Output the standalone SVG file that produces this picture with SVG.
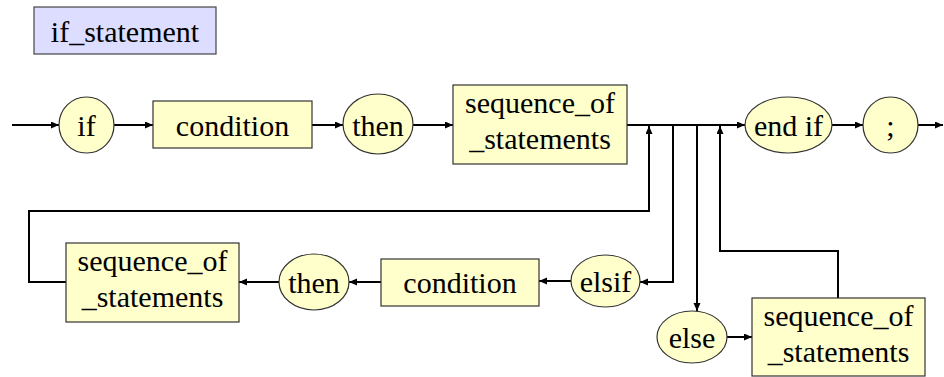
<svg xmlns="http://www.w3.org/2000/svg" width="944" height="377" viewBox="0 0 944 377">
<defs>
<marker id="arr" markerUnits="userSpaceOnUse" markerWidth="9" markerHeight="8" refX="8" refY="3.5" orient="auto">
<path d="M0,0 L8,3.5 L0,7 z" fill="#000"/>
</marker>
<style>
.n{fill:#ffffcc;stroke:#333;stroke-width:1.2}
.t{fill:#ddddff;stroke:#444;stroke-width:1.2}
text{font-family:'Liberation Serif','DejaVu Serif','Times New Roman',Times,serif;font-size:30px;fill:#000;text-anchor:middle}
.c path{fill:none;stroke:#000;stroke-width:2;marker-end:url(#arr)}
</style>
</defs>
<rect width="944" height="377" fill="#fff"/>
<g id="title"><rect class="t" x="34" y="7" width="182" height="47"/><text x="125" y="42" font-family="Liberation Serif, serif">if_statement</text></g>
<g class="c" id="connectors">
<path d="M12,125 H59"/>
<path d="M114,125 H153"/>
<path d="M312,125 H343"/>
<path d="M413,125 H453"/>
<path d="M627,125 H745"/>
<path d="M832,125 H863"/>
<path d="M918,125 H943"/>
<path d="M66,282 H29 V211 H649 V126"/>
<path d="M673,125 V282 H640"/>
<path d="M571,281 H539"/>
<path d="M381,282 H349"/>
<path d="M279,282 H239"/>
<path d="M697,125 V311"/>
<path d="M727,337 H752"/>
<path d="M838,298 V251 H720 V126"/>
</g>
<g id="if"><ellipse class="n" cx="86.5" cy="125" rx="27.5" ry="28"/><text x="86.5" y="136">if</text></g>
<g id="condition1"><rect class="n" x="153" y="101" width="159" height="47"/><text x="232.5" y="136">condition</text></g>
<g id="then1"><ellipse class="n" cx="378" cy="124" rx="35" ry="30"/><text x="378" y="136">then</text></g>
<g id="seq1"><rect class="n" x="453" y="85" width="174" height="79"/><text x="540" y="113">sequence_of</text><text x="540" y="149">_statements</text></g>
<g id="endif"><ellipse class="n" cx="788.5" cy="125" rx="43.5" ry="28"/><text x="788.5" y="136">end if</text></g>
<g id="semi"><ellipse class="n" cx="890.5" cy="125" rx="27.5" ry="28"/><text x="890.5" y="136">;</text></g>
<g id="elsif"><ellipse class="n" cx="605.5" cy="281" rx="34.5" ry="26"/><text x="605.5" y="292">elsif</text></g>
<g id="condition2"><rect class="n" x="381" y="259" width="158" height="47"/><text x="460" y="293">condition</text></g>
<g id="then2"><ellipse class="n" cx="314" cy="282" rx="35" ry="28"/><text x="314" y="293">then</text></g>
<g id="seq2"><rect class="n" x="66" y="243" width="173" height="79"/><text x="152.5" y="271">sequence_of</text><text x="152.5" y="307">_statements</text></g>
<g id="else"><ellipse class="n" cx="692" cy="337" rx="35" ry="26"/><text x="692" y="348">else</text></g>
<g id="seq3"><rect class="n" x="752" y="298" width="173" height="78"/><text x="838.5" y="326">sequence_of</text><text x="838.5" y="362">_statements</text></g>
</svg>
